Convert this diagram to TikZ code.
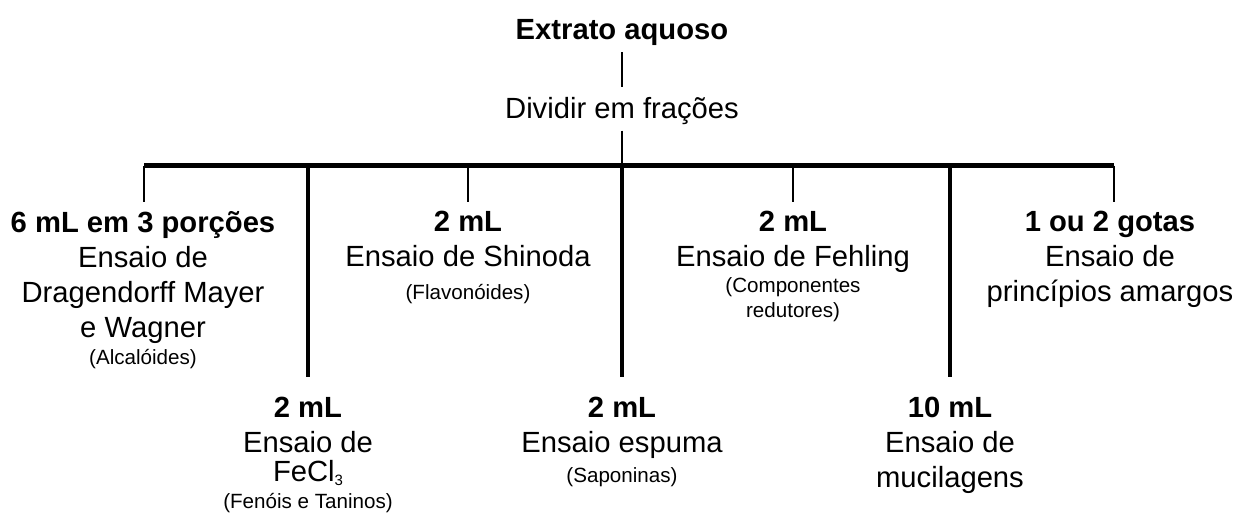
\documentclass[tikz,border=0pt]{standalone}
\usepackage{fontspec}
\setmainfont{Liberation Sans}
\usepackage{xcolor}
\usepackage{tikz}

\newcommand{\pq}{\fontsize{10.3}{12.5}\selectfont}
\newcommand{\ind}[1]{\raisebox{-2pt}{\fontsize{7.5}{8}\selectfont #1}}
\tikzset{
  texto/.style = {inner sep = 0pt, font = \fontsize{14.6}{17.5}\selectfont},
  ensaio/.style = {texto, anchor = north, align = center},
  fino/.style = {line width = 1pt},
  grosso/.style = {line width = 2pt},
  barra/.style = {line width = 2.6pt}
}

\begin{document}
\begin{tikzpicture}[x = 0.5pt, y = -0.5pt]
    \useasboundingbox (0, 0) rectangle (1244, 520);
    \node[texto, anchor = base, font = \fontsize{14.6}{17.5}\selectfont\bfseries] (extrato) at (622, 39) {Extrato aquoso};
    \node[texto, anchor = base] (dividir) at (622, 118) {Dividir em frações};
    \coordinate (b1) at (144, 165.5);
    \coordinate (b2) at (308, 165.5);
    \coordinate (b3) at (468, 165.5);
    \coordinate (b4) at (622, 165.5);
    \coordinate (b5) at (793, 165.5);
    \coordinate (b6) at (950, 165.5);
    \coordinate (b7) at (1114, 165.5);
    \draw[fino, shorten < = 3.5pt, shorten > = 4.5pt] (extrato) -- (dividir);
    \draw[fino, shorten < = 3pt] (dividir) -- (b4);
    \draw[barra] (b1) -- (b7);
    {
      \node[ensaio] (e1) at (143, 211) {{\bfseries 6 mL em 3 porções}\\ Ensaio de\\ Dragendorff Mayer\\ e Wagner\\[-4pt] {\pq (Alcalóides)}};
      \node[ensaio] (e3) at (468, 211) {{\bfseries 2 mL}\\ Ensaio de Shinoda\\[-1pt] {\pq (Flavonóides)}};
      \node[ensaio] (e5) at (793, 211) {{\bfseries 2 mL}\\ Ensaio de Fehling\\[-4.5pt] {\pq (Componentes}\\[-5pt] {\pq redutores)}};
      \node[ensaio] (e7) at (1110, 211) {{\bfseries 1 ou 2 gotas}\\ Ensaio de\\ princípios amargos};
      \draw[fino, shorten > = 4.5pt] (b1) -- (b1 |- e1.north);
      \draw[fino, shorten > = 4.5pt] (b3) -- (b3 |- e3.north);
      \draw[fino, shorten > = 4.5pt] (b5) -- (b5 |- e5.north);
      \draw[fino, shorten > = 4.5pt] (b7) -- (b7 |- e7.north);
    }
    {
      \node[ensaio] (e2) at (308, 397) {{\bfseries 2 mL}\\ Ensaio de\\[-3pt] FeCl\ind{3}\\[-4pt] {\pq (Fenóis e Taninos)}};
      \node[ensaio] (e4) at (622, 397) {{\bfseries 2 mL}\\ Ensaio espuma\\[-2.5pt] {\pq (Saponinas)}};
      \node[ensaio] (e6) at (950, 397) {{\bfseries 10 mL}\\ Ensaio de\\ mucilagens};
      \draw[grosso, shorten > = 10pt] (b2) -- (b2 |- e2.north);
      \draw[grosso, shorten > = 10pt] (b4) -- (b4 |- e4.north);
      \draw[grosso, shorten > = 10pt] (b6) -- (b6 |- e6.north);
    }
\end{tikzpicture}
\end{document}
